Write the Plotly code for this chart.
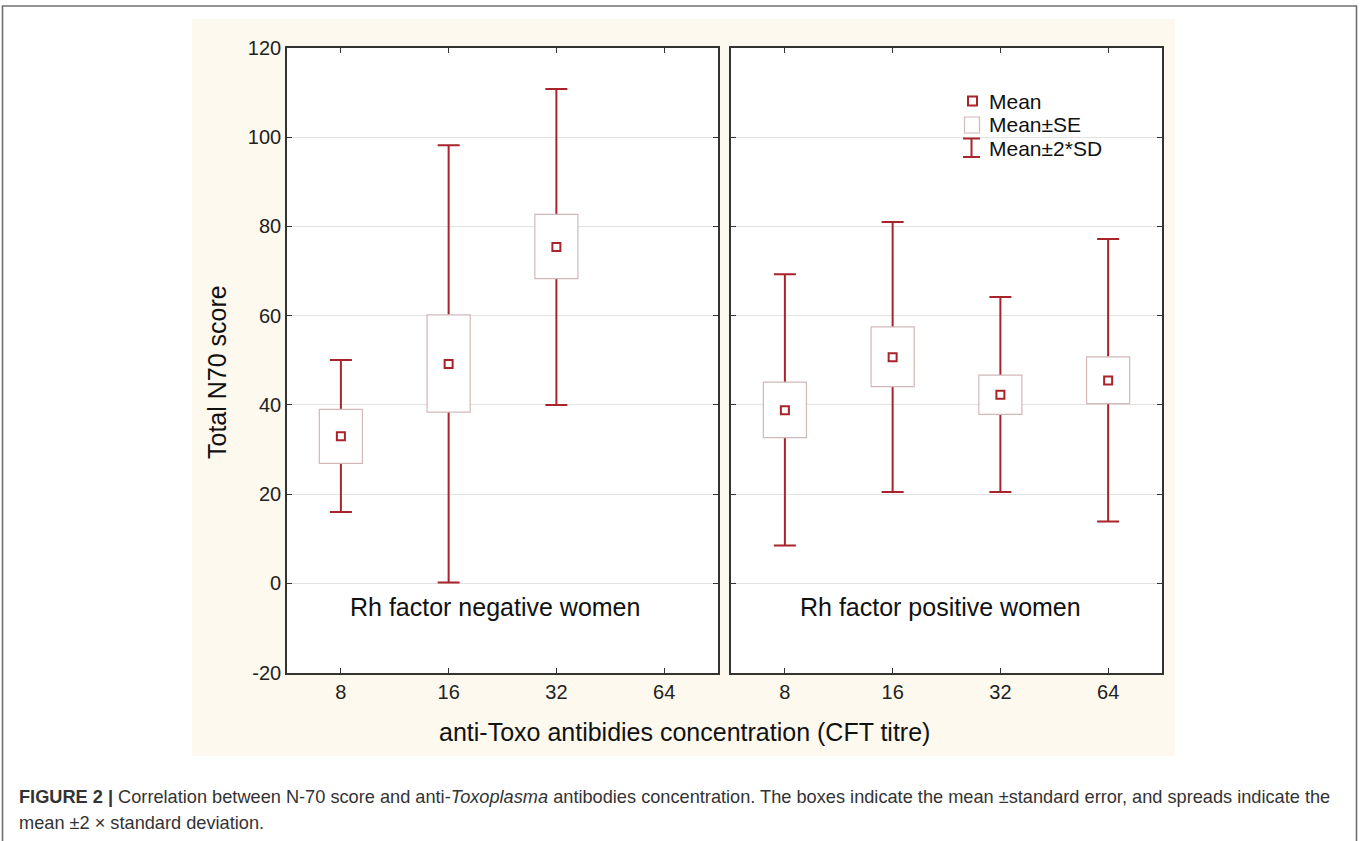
import plotly.graph_objects as go

# ---------------- data ----------------
titre_labels = ["8", "16", "32", "64"]

# Rh factor negative women (no data for titre 64)
neg_cat = [0, 1, 2]
neg_mean = [33.0, 49.2, 75.4]
neg_se_lo = [26.9, 38.4, 68.3]
neg_se_hi = [39.0, 60.2, 82.7]
neg_sd_lo = [16.0, 0.2, 40.0]
neg_sd_hi = [50.1, 98.2, 110.8]

# Rh factor positive women
pos_cat = [0, 1, 2, 3]
pos_mean = [38.8, 50.7, 42.3, 45.5]
pos_se_lo = [32.7, 44.1, 37.9, 40.3]
pos_se_hi = [45.1, 57.5, 46.7, 50.8]
pos_sd_lo = [8.5, 20.5, 20.5, 13.9]
pos_sd_hi = [69.3, 81.0, 64.2, 77.2]

y_ticks = [-20, 0, 20, 40, 60, 80, 100, 120]
y_tick_text = ["-20", "0", "20", "40", "60", "80", "100", "120"]

# ---------------- style ----------------
W, H = 1360, 841
RED = "#a8242a"
BOXLINE = "#d2b8b8"
CREAM = "#fdf9ee"
GRID = "#e2e2e2"
AXIS = "#333333"
FONT = "Liberation Sans, Arial, sans-serif"
X_RANGE = [-0.5, 3.5]
Y_RANGE = [-20, 120]


def px_x(x):
    return x / W


def px_y(y):
    return 1 - y / H


fig = go.Figure()


def add_panel(base_x, base_y, top_x, top_y, cats, mean, se_lo, se_hi, sd_lo, sd_hi):
    # whiskers mean-2SD .. mean+2SD (drawn in the base subplot, underneath)
    fig.add_trace(go.Scatter(
        x=cats, y=mean, mode="markers", marker=dict(size=1, opacity=0),
        error_y=dict(type="data", symmetric=False,
                     array=[h - m for h, m in zip(sd_hi, mean)],
                     arrayminus=[m - l for m, l in zip(mean, sd_lo)],
                     color=RED, thickness=2, width=11),
        xaxis=base_x, yaxis=base_y, showlegend=False, hoverinfo="skip"))
    # SE boxes (overlay subplot, on top of whiskers)
    fig.add_trace(go.Bar(
        x=cats, y=[h - l for h, l in zip(se_hi, se_lo)], base=se_lo, width=0.4,
        marker=dict(color="white", line=dict(color=BOXLINE, width=1.2)),
        xaxis=top_x, yaxis=top_y, showlegend=False, hoverinfo="skip"))
    # means
    fig.add_trace(go.Scatter(
        x=cats, y=mean, mode="markers",
        marker=dict(symbol="square-open", size=8, color=RED, line=dict(width=2, color=RED)),
        xaxis=top_x, yaxis=top_y, showlegend=False, hoverinfo="skip"))


add_panel("x", "y", "x3", "y3", neg_cat, neg_mean, neg_se_lo, neg_se_hi, neg_sd_lo, neg_sd_hi)
add_panel("x2", "y2", "x4", "y4", pos_cat, pos_mean, pos_se_lo, pos_se_hi, pos_sd_lo, pos_sd_hi)

tickfont = dict(family=FONT, size=20, color="#222222")
x_common = dict(
    range=X_RANGE, tickmode="array", tickvals=list(range(len(titre_labels))),
    ticktext=titre_labels, ticks="inside", ticklen=5, tickwidth=1.2, tickcolor=AXIS,
    showline=True, linecolor=AXIS, linewidth=1.6, mirror="ticks",
    showgrid=False, zeroline=False, automargin=False, tickfont=tickfont,
)
y_common = dict(
    range=Y_RANGE, tickmode="array", tickvals=y_ticks, ticktext=y_tick_text,
    ticks="inside", ticklen=5, tickwidth=1.2, tickcolor=AXIS,
    showline=True, linecolor=AXIS, linewidth=1.6, mirror="ticks",
    showgrid=True, gridcolor=GRID, gridwidth=1, zeroline=False, automargin=False,
    tickfont=tickfont,
)
hidden_x = dict(range=X_RANGE, visible=False, showgrid=False, zeroline=False, automargin=False)
hidden_y = dict(range=Y_RANGE, visible=False, showgrid=False, zeroline=False, automargin=False)

y_dom = [px_y(672.7), px_y(48)]
fig.update_layout(
    xaxis=dict(domain=[px_x(287), px_x(718)], anchor="y", **x_common),
    yaxis=dict(domain=y_dom, anchor="x", showticklabels=True, **y_common),
    xaxis2=dict(domain=[px_x(731), px_x(1162)], anchor="y2", **x_common),
    yaxis2=dict(domain=y_dom, anchor="x2", showticklabels=False, **y_common),
    xaxis3=dict(overlaying="x", anchor="y3", **hidden_x),
    yaxis3=dict(overlaying="y", anchor="x3", **hidden_y),
    xaxis4=dict(overlaying="x2", anchor="y4", **hidden_x),
    yaxis4=dict(overlaying="y2", anchor="x4", **hidden_y),
)

shapes = []
# outer figure frame
shapes.append(dict(type="rect", xref="paper", yref="paper",
                   x0=px_x(2.5), x1=px_x(1356.5), y0=px_y(848), y1=px_y(6),
                   line=dict(color="#707070", width=1.6), fillcolor="rgba(0,0,0,0)", layer="below"))
# cream background
shapes.append(dict(type="rect", xref="paper", yref="paper",
                   x0=px_x(192), x1=px_x(1175), y0=px_y(756), y1=px_y(19),
                   line=dict(width=0), fillcolor=CREAM, layer="below"))
# white panel backgrounds
for x0, x1 in [(287, 718), (731, 1162)]:
    shapes.append(dict(type="rect", xref="paper", yref="paper",
                       x0=px_x(x0), x1=px_x(x1), y0=px_y(672.7), y1=px_y(48),
                       line=dict(width=0), fillcolor="white", layer="below"))

# legend glyphs (page pixels)
shapes.append(dict(type="rect", xref="paper", yref="paper",
                   x0=px_x(968), x1=px_x(977), y0=px_y(105.5), y1=px_y(96.5),
                   line=dict(color=RED, width=2), fillcolor="white"))
shapes.append(dict(type="rect", xref="paper", yref="paper",
                   x0=px_x(964.5), x1=px_x(979.5), y0=px_y(133), y1=px_y(117),
                   line=dict(color=BOXLINE, width=1.2), fillcolor="white"))
shapes.append(dict(type="line", xref="paper", yref="paper",
                   x0=px_x(971.5), x1=px_x(971.5), y0=px_y(157), y1=px_y(138.5),
                   line=dict(color=RED, width=2)))
for yy in (138.5, 157):
    shapes.append(dict(type="line", xref="paper", yref="paper",
                       x0=px_x(963), x1=px_x(980), y0=px_y(yy), y1=px_y(yy),
                       line=dict(color=RED, width=2)))

annotations = []
for txt, yy in [("Mean", 101), ("Mean±SE", 124.5), ("Mean±2*SD", 148.5)]:
    annotations.append(dict(text=txt, xref="paper", yref="paper", x=px_x(986.5), y=px_y(yy),
                            xanchor="left", yanchor="middle", showarrow=False,
                            font=dict(family=FONT, size=21, color="#111111")))
# panel labels
annotations.append(dict(text="Rh factor negative women", xref="paper", yref="paper",
                        x=px_x(495), y=px_y(607), xanchor="center", yanchor="middle",
                        showarrow=False, font=dict(family=FONT, size=25, color="#111111")))
annotations.append(dict(text="Rh factor positive women", xref="paper", yref="paper",
                        x=px_x(940), y=px_y(607), xanchor="center", yanchor="middle",
                        showarrow=False, font=dict(family=FONT, size=25, color="#111111")))
# axis titles
annotations.append(dict(text="anti-Toxo antibidies concentration (CFT titre)", xref="paper", yref="paper",
                        x=px_x(684), y=px_y(732), xanchor="center", yanchor="middle",
                        showarrow=False, font=dict(family=FONT, size=25, color="#111111")))
annotations.append(dict(text="Total N70 score", xref="paper", yref="paper",
                        x=px_x(217), y=px_y(372), xanchor="center", yanchor="middle",
                        textangle=-90, showarrow=False,
                        font=dict(family=FONT, size=25, color="#111111")))
# caption
CAP_FONT = "Liberation Sans, Arial, sans-serif"
annotations.append(dict(
    text="<b>FIGURE 2 |</b> Correlation between N-70 score and anti-<i>Toxoplasma</i> antibodies concentration. "
         "The boxes indicate the mean ±standard error, and spreads indicate the",
    xref="paper", yref="paper", x=px_x(17), y=px_y(797), xanchor="left", yanchor="middle",
    showarrow=False, font=dict(family=CAP_FONT, size=18.2, color="#333333")))
annotations.append(dict(
    text="mean ±2 × standard deviation.",
    xref="paper", yref="paper", x=px_x(17), y=px_y(823), xanchor="left", yanchor="middle",
    showarrow=False, font=dict(family=CAP_FONT, size=18.2, color="#333333")))

fig.update_layout(
    width=W, height=H, autosize=False,
    margin=dict(l=0, r=0, t=0, b=0, pad=0, autoexpand=False),
    paper_bgcolor="white", plot_bgcolor="rgba(0,0,0,0)",
    shapes=shapes, annotations=annotations,
    barmode="overlay", showlegend=False,
    font=dict(family=FONT),
)

fig.write_html(
    "out.html",
    config={"displayModeBar": False},
    post_script="document.body.style.margin='0';document.body.style.overflow='hidden';",
)
